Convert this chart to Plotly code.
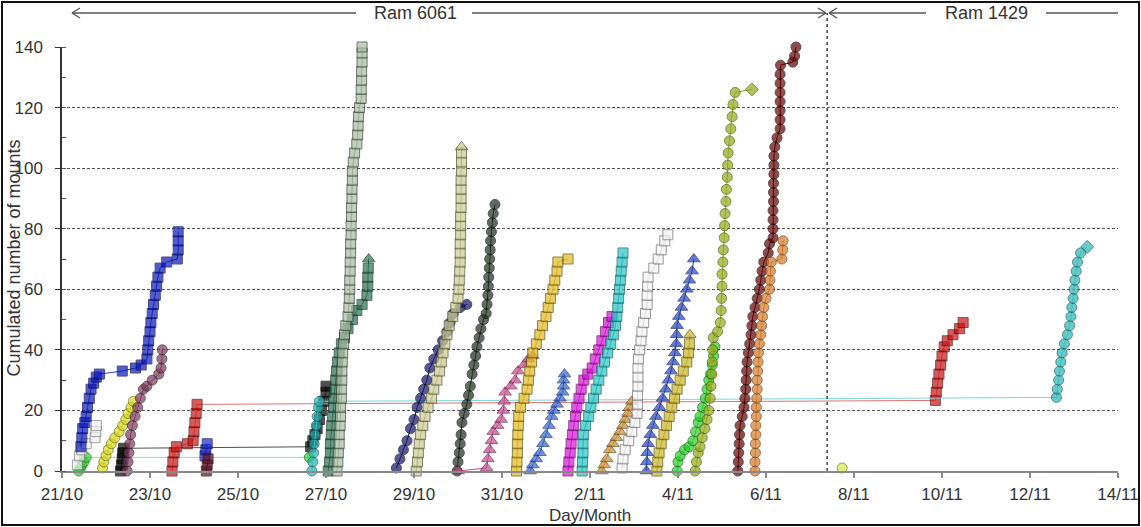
import plotly.graph_objects as go

# ---------------- axis data ----------------
day_ticks = [0, 2, 4, 6, 8, 10, 12, 14, 16, 18, 20, 22, 24]
day_labels = ["21/10", "23/10", "25/10", "27/10", "29/10", "31/10", "2/11",
              "4/11", "6/11", "8/11", "10/11", "12/11", "14/11"]
count_ticks = [0, 20, 40, 60, 80, 100, 120, 140]
ram_split_day = 17.39   # dotted separator between the two rams

# ---------------- series (x = days since 21/10, y = cumulated mounts) ----------------
blue1_x = [0.43, 0.45, 0.47, 0.52, 0.55, 0.58, 0.62, 0.66, 0.72, 0.78, 0.85, 1.37, 1.67, 1.8, 1.93,
           1.95, 1.97, 2.0, 2.02, 2.05, 2.08, 2.12, 2.15, 2.18, 2.23, 2.38, 2.62, 2.64, 2.64, 2.64]
blue1_y = [8, 11, 14, 16, 18, 21, 24, 27, 29, 31, 32, 33, 34, 35, 37,
           40, 43, 46, 49, 52, 55, 58, 61, 64, 67, 69, 70, 73, 76, 79]

white1_x = [0.35, 0.4, 0.45, 0.55, 0.75, 0.77, 0.78]
white1_y = [2, 5, 7, 9, 11, 13, 15]

green1_x = [0.38, 0.42, 0.45, 0.5, 0.55, 5.62]
green1_y = [0, 1, 2, 3, 4.5, 4.5]

yellow1_x = [0.92, 0.95, 1.0, 1.05, 1.12, 1.2, 1.3, 1.38, 1.45, 1.5, 1.57, 1.62]
yellow1_y = [1, 3, 5, 7, 9, 11, 13, 15, 17, 19, 21, 23]

black1_x = [1.33, 1.35, 1.37, 1.38, 1.4, 5.65, 5.7, 5.75, 5.8, 5.85, 5.9, 5.95, 6.0, 6.0]
black1_y = [0, 2, 4, 6, 7.5, 8, 10, 12, 14, 17, 20, 23, 26, 28]

plum_x = [1.48, 1.5, 1.52, 1.54, 1.56, 1.6, 1.66, 1.72, 1.78, 1.85, 1.93, 2.05, 2.2, 2.25, 2.27, 2.28]
plum_y = [0, 3, 6, 9, 12, 15, 18, 21, 24, 27, 28, 30, 32, 34, 37, 40]

red_x = [2.5, 2.52, 2.55, 2.6, 2.85, 2.98, 3.0, 3.02, 3.05, 3.07,
         19.85, 19.87, 19.9, 19.93, 19.97, 20.0, 20.05, 20.12, 20.25, 20.4, 20.48]
red_y = [0, 3, 6, 8, 9, 10, 13, 16, 19, 22,
         23.3, 26, 29, 32, 35, 38, 41, 43, 45, 47, 49]

blue2_x = [3.25, 3.27, 3.3]
blue2_y = [5, 7, 9]

maroon1_x = [3.28, 3.3, 3.32]
maroon1_y = [0, 2, 4]

teal_x = [5.68, 5.7, 5.72, 5.73, 5.75, 5.78, 5.8, 5.83, 5.85,
          22.6, 22.62, 22.65, 22.67, 22.7, 22.73, 22.78, 22.85, 22.9, 22.93, 22.95, 22.98,
          23.0, 23.02, 23.05, 23.08, 23.15, 23.3]
teal_y = [0, 3, 6, 9, 12, 15, 18, 21, 23,
          24.3, 27, 30, 33, 36, 39, 42, 45, 48, 51, 54, 57,
          60, 63, 66, 69, 72, 74]

darkgreen_x = [6.05, 6.08, 6.1, 6.1, 6.12, 6.13, 6.15, 6.17, 6.18, 6.2, 6.22, 6.24, 6.26,
               6.3, 6.35, 6.42, 6.5, 6.6, 6.7, 6.82, 6.93, 6.95, 6.95, 6.96, 6.97]
darkgreen_y = [0, 3, 6, 9, 12, 15, 18, 21, 24, 27, 30, 33, 36,
               39, 42, 44, 47, 50, 53, 55, 58, 61, 64, 67, 70]

sage_x = [6.25, 6.27, 6.28, 6.3, 6.3, 6.32, 6.33, 6.33, 6.35, 6.35, 6.36, 6.36, 6.37, 6.38,
          6.4, 6.42, 6.45, 6.5, 6.52, 6.53, 6.54, 6.54, 6.55, 6.55, 6.56, 6.56, 6.57, 6.57,
          6.58, 6.58, 6.59, 6.59, 6.6, 6.6, 6.62, 6.65, 6.7, 6.72, 6.73, 6.74, 6.76, 6.8,
          6.8, 6.81, 6.81, 6.82, 6.82, 6.82]
sage_y = [0, 3, 6, 9, 12, 15, 18, 21, 24, 27, 30, 33, 36, 39,
          42, 45, 48, 51, 54, 57, 60, 63, 66, 69, 72, 75, 78, 81,
          84, 87, 90, 93, 96, 99, 102, 105, 108, 111, 114, 117, 120, 123,
          126, 129, 132, 135, 138, 140]

navy_x = [7.6, 7.68, 7.76, 7.84, 7.92, 8.0, 8.07, 8.15, 8.22, 8.29, 8.36, 8.45, 8.55, 8.65,
          8.75, 8.82, 8.89, 9.05, 9.2]
navy_y = [1, 4, 7, 10, 14, 17, 21, 24, 27, 30, 34, 37, 40, 43, 46, 49, 52, 54, 55]

khaki_x = [8.05, 8.08, 8.1, 8.12, 8.15, 8.2, 8.25, 8.32, 8.4, 8.45, 8.52, 8.58, 8.62, 8.66,
           8.7, 8.75, 8.8, 8.88, 8.95, 9.0, 9.02, 9.03, 9.04, 9.05, 9.05, 9.05, 9.06, 9.06,
           9.06, 9.07, 9.07, 9.07, 9.07, 9.08, 9.08, 9.08, 9.08]
khaki_y = [0, 3, 6, 9, 12, 15, 18, 21, 24, 27, 30, 33, 36, 39,
           42, 45, 48, 51, 54, 57, 60, 63, 66, 69, 72, 75, 78, 81,
           84, 87, 90, 93, 96, 99, 102, 105, 107]

dark_x = [8.98, 9.0, 9.03, 9.05, 9.07, 9.09, 9.14, 9.2, 9.24, 9.28, 9.32, 9.36, 9.4, 9.43,
          9.48, 9.52, 9.58, 9.64, 9.66, 9.68, 9.69, 9.7, 9.71, 9.72, 9.73, 9.74, 9.76, 9.78,
          9.8, 9.84]
dark_y = [0, 3, 6, 9, 12, 16, 19, 22, 25, 28, 32, 35, 38, 41,
          44, 47, 50, 52, 55, 58, 61, 64, 67, 70, 73, 76, 79, 82, 85, 88]

pink_x = [9.0, 9.65, 9.68, 9.72, 9.76, 9.8, 9.9, 9.98, 10.03, 10.05, 10.07, 10.2, 10.3,
          10.36, 10.5, 10.6, 10.7]
pink_y = [0, 1, 4, 7, 10, 13, 15, 17, 20, 23, 26, 28, 30, 33, 35, 37, 38]

gold_x = [10.33, 10.34, 10.35, 10.35, 10.36, 10.37, 10.38, 10.42, 10.5, 10.57, 10.6, 10.63,
          10.67, 10.7, 10.78, 10.86, 10.92, 11.0, 11.05, 11.1, 11.16, 11.2, 11.25, 11.27, 11.5]
gold_y = [0, 3, 6, 9, 12, 15, 18, 21, 24, 27, 30, 33,
          36, 39, 42, 45, 48, 51, 54, 57, 60, 63, 66, 69, 70]

blue3_x = [10.64, 10.7, 10.78, 10.86, 10.93, 11.0, 11.07, 11.13, 11.18, 11.25, 11.32, 11.38,
           11.4, 11.4, 11.42]
blue3_y = [0, 2, 4, 6, 9, 12, 15, 18, 20, 22, 24, 26, 28, 30, 32]

magenta_x = [11.5, 11.52, 11.55, 11.57, 11.6, 11.63, 11.67, 11.7, 11.75, 11.8, 11.86, 11.95,
             12.05, 12.12, 12.2, 12.27, 12.35, 12.42, 12.5]
magenta_y = [0, 3, 6, 9, 12, 15, 18, 21, 24, 27, 30, 32, 34, 37, 40, 43, 46, 49, 51]

cyan_x = [11.82, 11.83, 11.84, 11.84, 11.85, 11.9, 11.97, 12.02, 12.08, 12.14, 12.2, 12.27,
          12.33, 12.4, 12.47, 12.53, 12.58, 12.61, 12.63, 12.65, 12.67, 12.69, 12.71, 12.73, 12.75]
cyan_y = [0, 3, 6, 9, 12, 15, 18, 21, 24, 27, 30, 33,
          36, 39, 42, 45, 48, 51, 54, 57, 60, 63, 66, 69, 72]

orange1_x = [12.27, 12.32, 12.38, 12.45, 12.52, 12.6, 12.68, 12.75, 12.8, 12.86, 12.9, 12.95]
orange1_y = [0, 2, 4, 7, 9, 11, 13, 15, 17, 19, 21, 23]

white2_x = [12.73, 12.75, 12.8, 12.88, 12.95, 13.02, 13.07, 13.08, 13.08, 13.09, 13.09, 13.09,
            13.1, 13.13, 13.16, 13.18, 13.22, 13.26, 13.3, 13.3, 13.31, 13.32, 13.45, 13.55,
            13.62, 13.7, 13.77]
white2_y = [1, 4, 7, 10, 13, 16, 19, 22, 25, 28, 31, 34,
            37, 40, 43, 46, 49, 52, 55, 58, 61, 64, 67, 70, 73, 76, 78]

blue4_x = [13.28, 13.29, 13.3, 13.32, 13.37, 13.43, 13.5, 13.58, 13.65, 13.72, 13.78, 13.84,
           13.89, 13.93, 13.96, 13.97, 13.98, 14.02, 14.08, 14.14, 14.2, 14.26, 14.32, 14.36]
blue4_y = [0, 3, 6, 9, 12, 15, 18, 21, 24, 27, 30, 33,
           36, 39, 42, 45, 48, 51, 54, 57, 60, 63, 66, 70]

olive_x = [13.52, 13.54, 13.57, 13.62, 13.68, 13.74, 13.8, 13.86, 13.92, 13.98, 14.05, 14.12,
           14.2, 14.24, 14.26, 14.27]
olive_y = [0, 3, 6, 9, 12, 15, 18, 21, 24, 27, 30, 33, 36, 39, 42, 45]

green2_x = [13.98, 14.0, 14.05, 14.15, 14.25, 14.34, 14.4, 14.46, 14.5, 14.56, 14.62, 14.66,
            14.7, 14.74, 14.78, 14.81, 14.84]
green2_y = [0, 3, 5, 7, 8, 10, 13, 16, 18, 21, 24, 27, 30, 32, 35, 38, 41]

lime_x = [14.39, 14.42, 14.46, 14.5, 14.55, 14.61, 14.66, 14.7, 14.73, 14.75, 14.77, 14.78,
          14.79, 14.8, 14.9, 14.96, 14.98, 14.99, 15.0, 15.0, 15.02, 15.03, 15.05, 15.06,
          15.07, 15.09, 15.1, 15.12, 15.13, 15.14, 15.17, 15.2, 15.23, 15.25, 15.3, 15.68]
lime_y = [0, 3, 6, 8, 11, 14, 17, 20, 24, 28, 32, 36,
          40, 44, 46, 49, 53, 57, 61, 65, 69, 73, 77, 81,
          85, 89, 93, 97, 101, 105, 109, 113, 117, 121, 125, 126]

maroon2_x = [15.36, 15.37, 15.38, 15.39, 15.4, 15.41, 15.46, 15.5, 15.52, 15.54, 15.55, 15.56,
             15.57, 15.6, 15.63, 15.66, 15.68, 15.7, 15.75, 15.8, 15.85, 15.88, 15.91, 15.95,
             16.05, 16.08, 16.16, 16.16, 16.16, 16.16, 16.17, 16.17, 16.17, 16.18, 16.18, 16.18,
             16.2, 16.25, 16.32, 16.32, 16.32, 16.32, 16.32, 16.32, 16.32, 16.33, 16.61, 16.65, 16.68]
maroon2_y = [0, 3, 6, 9, 12, 15, 18, 21, 24, 27, 30, 33,
             36, 39, 42, 45, 48, 51, 54, 57, 60, 63, 66, 69,
             72, 75, 77, 80, 83, 86, 89, 92, 95, 98, 101, 104,
             107, 110, 113, 116, 119, 122, 125, 128, 131, 134, 135, 137, 140]

orange2_x = [15.75, 15.75, 15.76, 15.76, 15.77, 15.77, 15.78, 15.78, 15.79, 15.8, 15.8, 15.81,
             15.82, 15.83, 15.85, 15.88, 15.9, 15.92, 15.95, 16.0, 16.08, 16.09, 16.1, 16.12,
             16.36, 16.38, 16.39]
orange2_y = [0, 3, 6, 9, 12, 15, 18, 21, 24, 27, 30, 33,
             36, 39, 42, 45, 48, 51, 54, 57, 60, 63, 66, 69, 70, 73, 76]

single_x = [17.73]
single_y = [1]

# (x, y, symbol, last symbol, fill, edge, line colour)
series = [
    (green1_x, green1_y, "circle", None, "#30D030", "#107010", "#90E890"),
    (black1_x, black1_y, "square", None, "#050505", "#000000", "#505050"),
    (red_x, red_y, "square", None, "#C81414", "#500000", "#E87070"),
    (teal_x, teal_y, "circle", "diamond", "#28B4B4", "#0E5E5E", "#7AD8D8"),
    (white1_x, white1_y, "square", None, "#F2F2F2", "#7A7A7A", "#A0A0A0"),
    (blue1_x, blue1_y, "square", None, "#0A18B8", "#00005A", "#3040D0"),
    (yellow1_x, yellow1_y, "circle", None, "#D8D820", "#6E6E00", "#C8C830"),
    (plum_x, plum_y, "circle", None, "#7A3A5C", "#3A1A2A", "#7A3A5C"),
    (blue2_x, blue2_y, "square", None, "#1428C8", "#000060", "#1428C8"),
    (maroon1_x, maroon1_y, "square", None, "#5A1020", "#300010", "#5A1020"),
    (darkgreen_x, darkgreen_y, "square", "triangle-up", "#2C6E52", "#0E3020", "#2C6E52"),
    (sage_x, sage_y, "square", None, "#AABCA2", "#2E402E", "#6E806E"),
    (navy_x, navy_y, "circle", None, "#141464", "#000030", "#141464"),
    (khaki_x, khaki_y, "square", "triangle-up", "#CACA92", "#4E4E2E", "#8E8E5E"),
    (dark_x, dark_y, "circle", None, "#1E2C1E", "#0A100A", "#1E2C1E"),
    (pink_x, pink_y, "triangle-up", None, "#C44C8C", "#7A2050", "#C44C8C"),
    (gold_x, gold_y, "square", None, "#E2BA22", "#5E4E00", "#B89A20"),
    (blue3_x, blue3_y, "triangle-up", None, "#3464CC", "#102E7A", "#3464CC"),
    (magenta_x, magenta_y, "square", None, "#D414D4", "#6A006A", "#D414D4"),
    (cyan_x, cyan_y, "square", None, "#24C4C4", "#0E5E5E", "#24A4A4"),
    (orange1_x, orange1_y, "triangle-up", None, "#CC8C32", "#6A4410", "#CC8C32"),
    (white2_x, white2_y, "square", None, "#F4F4F4", "#6E6E6E", "#A0A0A0"),
    (blue4_x, blue4_y, "triangle-up", None, "#2444BC", "#0C1E6A", "#2444BC"),
    (olive_x, olive_y, "square", "triangle-up", "#C8B426", "#5E5200", "#B0A020"),
    (green2_x, green2_y, "circle", None, "#2ACC2A", "#0C6A0C", "#2ACC2A"),
    (lime_x, lime_y, "circle", "diamond", "#92AA1A", "#4A5A00", "#92AA1A"),
    (maroon2_x, maroon2_y, "circle", None, "#5E0202", "#2A0000", "#5E0202"),
    (orange2_x, orange2_y, "circle", None, "#D47A2A", "#7A3A08", "#D47A2A"),
    (single_x, single_y, "circle", None, "#D4E444", "#6A7A10", "#D4E444"),
]

fig = go.Figure()
for xs, ys, sym, last_sym, fill, edge, lc in series:
    syms = [sym] * len(xs)
    if last_sym:
        syms[-1] = last_sym
    sizes = [11 if s.startswith("triangle") else 10 for s in syms]
    fig.add_trace(go.Scatter(
        x=xs, y=ys, mode="lines+markers",
        line=dict(color=lc, width=1),
        marker=dict(symbol=syms, size=sizes, color=fill, line=dict(color=edge, width=1)),
        cliponaxis=False, showlegend=False, hoverinfo="skip"))

# ---------------- geometry helpers (pixel -> axis units) ----------------
L, R, T, B = 62, 23, 47, 56
W, H = 1141, 527
pw, ph = W - L - R, H - T - B
def dx(px):      # pixel x -> day value
    return (px - L) / pw * 24
def py_(py):     # pixel y -> paper y
    return (H - B - py) / ph

arrow_y = py_(13)
head_dx = 8 / pw * 24
head_dy = 5 / ph
shapes = []
def seg(x0, y0, x1, y1, color="#555", width=1.3):
    shapes.append(dict(type="line", xref="x", yref="paper", x0=x0, y0=y0, x1=x1, y1=y1,
                       line=dict(color=color, width=width)))

# Ram 6061 arrow
seg(dx(72), arrow_y, dx(356), arrow_y)
seg(dx(72), arrow_y, dx(72) + head_dx, arrow_y + head_dy)
seg(dx(72), arrow_y, dx(72) + head_dx, arrow_y - head_dy)
seg(dx(472), arrow_y, dx(826), arrow_y)
seg(dx(826), arrow_y, dx(826) - head_dx, arrow_y + head_dy)
seg(dx(826), arrow_y, dx(826) - head_dx, arrow_y - head_dy)
# Ram 1429 arrow
seg(dx(829), arrow_y, dx(926), arrow_y)
seg(dx(829), arrow_y, dx(829) + head_dx, arrow_y + head_dy)
seg(dx(829), arrow_y, dx(829) + head_dx, arrow_y - head_dy)
seg(dx(1046), arrow_y, dx(1137), arrow_y)
seg(dx(1137), arrow_y, dx(1137) - head_dx, arrow_y + head_dy)
seg(dx(1137), arrow_y, dx(1137) - head_dx, arrow_y - head_dy)

# separator between rams
shapes.append(dict(type="line", xref="x", yref="paper", x0=ram_split_day, x1=ram_split_day,
                   y0=0, y1=arrow_y, line=dict(color="#444", width=1.5, dash="dot")))
# outer frame
shapes.append(dict(type="rect", xref="paper", yref="paper",
                   x0=(2 - L) / pw, x1=(1139 - L) / pw, y0=py_(525), y1=py_(2),
                   line=dict(color="#111", width=2), fillcolor="rgba(0,0,0,0)"))

font_family = "Liberation Sans, Arial, sans-serif"
annotations = [
    dict(text="Ram 6061", x=dx(415), y=arrow_y, xref="x", yref="paper", showarrow=False,
         xanchor="center", yanchor="middle", font=dict(size=18, color="#333", family=font_family)),
    dict(text="Ram 1429", x=dx(986), y=arrow_y, xref="x", yref="paper", showarrow=False,
         xanchor="center", yanchor="middle", font=dict(size=18, color="#333", family=font_family)),
    dict(text="Cumulated number of mounts", x=(13.5 - L) / pw, y=py_(258), xref="paper",
         yref="paper", showarrow=False, textangle=-90, xanchor="center", yanchor="middle",
         font=dict(size=18, color="#333", family=font_family)),
    dict(text="Day/Month", x=0.5, y=py_(515), xref="paper", yref="paper", showarrow=False,
         xanchor="center", yanchor="middle", font=dict(size=17, color="#333", family=font_family)),
]

fig.update_layout(
    width=W, height=H, autosize=False,
    margin=dict(l=L, r=R, t=T, b=B, autoexpand=False),
    paper_bgcolor="white", plot_bgcolor="white",
    font=dict(family=font_family, color="#333"),
    shapes=shapes, annotations=annotations,
    xaxis=dict(range=[0, 24], tickvals=day_ticks, ticktext=day_labels, automargin=False,
               showgrid=False, zeroline=False, showline=True, linecolor="#8a8a8a", linewidth=2,
               ticks="outside", ticklen=5, tickcolor="#8a8a8a", tickwidth=1.5,
               tickfont=dict(size=17, color="#333"), ticklabelstandoff=2),
    yaxis=dict(range=[0, 140], tickvals=count_ticks, automargin=False,
               showgrid=True, gridcolor="#555", gridwidth=1, griddash="3px,2px",
               zeroline=False, showline=True, linecolor="#333", linewidth=1.5,
               ticks="outside", ticklen=5, tickcolor="#333",
               minor=dict(ticks="inside", ticklen=4, tickcolor="#555", dtick=10, showgrid=False),
               tickfont=dict(size=17, color="#333"), ticklabelstandoff=9),
)

post = ("document.body.style.margin='0';document.body.style.padding='0';"
        "document.body.style.overflow='hidden';")

fig.write_html("out.html",
               config={"displayModeBar": False, "responsive": False},
               post_script=post)
